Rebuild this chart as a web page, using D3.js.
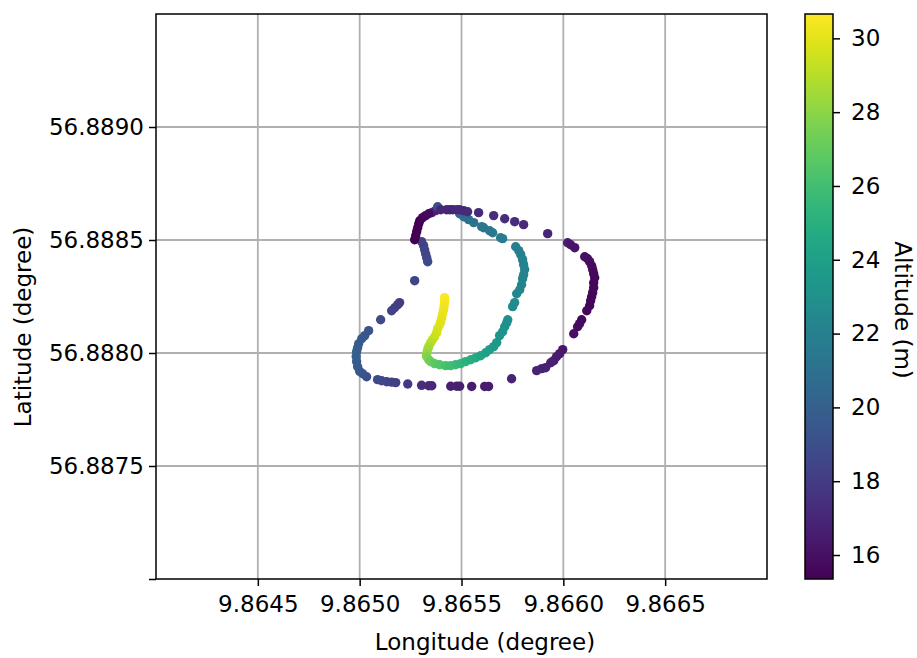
<!DOCTYPE html>
<html lang="en">
<head>
    <meta charset="UTF-8">
    <title>Flight path</title>
    <script src="https://cdn.jsdelivr.net/npm/d3@7"></script>
    <style>
        body { margin: 0; background: #fff; }
        text { font-family: "DejaVu Sans", sans-serif; fill: #000; }
        .grid line { stroke: #b0b0b0; stroke-width: 1.8px; }
    </style>
</head>
<body>
    <svg width="917" height="658"></svg>
    <script>
        // ----- data -----
        const longitude = [
            // inner spiral
            9.865417, 9.865417, 9.865415, 9.865412, 9.865408, 9.865403, 9.865398, 9.865393, 9.865383, 9.865378,
            9.865368, 9.865358, 9.865349, 9.865339, 9.865334, 9.865329, 9.865329, 9.865339, 9.865349, 9.865368,
            9.865393, 9.865422, 9.865447, 9.865471, 9.865496, 9.865520, 9.865545, 9.865570, 9.865594, 9.865619,
            9.865638, 9.865658, 9.865673, 9.865687, 9.865702, 9.865712, 9.865722, 9.865727, 9.865751, 9.865761,
            9.865771, 9.865786, 9.865795, 9.865800, 9.865805, 9.865810, 9.865805, 9.865800, 9.865791, 9.865781,
            9.865766, 9.865702, 9.865692, 9.865653, 9.865638, 9.865609, 9.865599, 9.865560, 9.865535, 9.865511,
            9.865491,
            // top row
            9.865354, 9.865373, 9.865383, 9.865398, 9.865427, 9.865442, 9.865457, 9.865476, 9.865491, 9.865511,
            9.865530, 9.865584, 9.865658, 9.865712, 9.865761, 9.865805, 9.865923,
            // right arc
            9.866021, 9.866036, 9.866056, 9.866105, 9.866119, 9.866129, 9.866139, 9.866144, 9.866149, 9.866154,
            9.866149, 9.866149, 9.866144, 9.866139, 9.866134, 9.866129, 9.866115, 9.866090, 9.866080, 9.866070,
            9.866051, 9.865997, 9.865982, 9.865967, 9.865953, 9.865938, 9.865913, 9.865894, 9.865869, 9.865746,
            // bottom and left arc
            9.865633, 9.865614, 9.865550, 9.865491, 9.865476, 9.865447, 9.865354, 9.865339, 9.865304, 9.865236,
            9.865177, 9.865157, 9.865133, 9.865108, 9.865088, 9.865034, 9.865015, 9.865000, 9.864990, 9.864985,
            9.864983, 9.864985, 9.864990, 9.864995, 9.865010, 9.865025, 9.865044, 9.865103, 9.865157, 9.865172,
            9.865187, 9.865196, 9.865270,
            // blue segment
            9.865334, 9.865329, 9.865324, 9.865319, 9.865314, 9.865304,
            // dark left arc
            9.865270, 9.865275, 9.865280, 9.865285, 9.865290, 9.865295, 9.865309, 9.865324, 9.865339
        ];
        const latitude = [
            56.888245, 56.888227, 56.888209, 56.888192, 56.888174, 56.888156, 56.888139, 56.888125, 56.888108, 56.888090,
            56.888072, 56.888059, 56.888046, 56.888028, 56.888015, 56.887997, 56.887984, 56.887970, 56.887962, 56.887953,
            56.887948, 56.887944, 56.887944, 56.887948, 56.887953, 56.887962, 56.887970, 56.887979, 56.887988, 56.888001,
            56.888015, 56.888028, 56.888046, 56.888077, 56.888094, 56.888116, 56.888134, 56.888147, 56.888205, 56.888223,
            56.888262, 56.888280, 56.888302, 56.888329, 56.888346, 56.888369, 56.888391, 56.888413, 56.888435, 56.888453,
            56.888470, 56.888506, 56.888510, 56.888532, 56.888541, 56.888554, 56.888559, 56.888577, 56.888590, 56.888603,
            56.888616,
            56.888621, 56.888630, 56.888647, 56.888634, 56.888634, 56.888634, 56.888634, 56.888634, 56.888634, 56.888630,
            56.888625, 56.888621, 56.888608, 56.888594, 56.888581, 56.888568, 56.888528,
            56.888488, 56.888479, 56.888466, 56.888426, 56.888417, 56.888404, 56.888386, 56.888369, 56.888351, 56.888333,
            56.888311, 56.888289, 56.888267, 56.888249, 56.888231, 56.888209, 56.888187, 56.888147, 56.888130, 56.888116,
            56.888085, 56.888015, 56.887997, 56.887984, 56.887966, 56.887957, 56.887935, 56.887931, 56.887922, 56.887886,
            56.887852, 56.887852, 56.887852, 56.887853, 56.887853, 56.887853, 56.887855, 56.887855, 56.887857, 56.887863,
            56.887869, 56.887871, 56.887873, 56.887877, 56.887882, 56.887895, 56.887908, 56.887919, 56.887939, 56.887962,
            56.887984, 56.888006, 56.888023, 56.888041, 56.888063, 56.888077, 56.888099, 56.888147, 56.888187, 56.888200,
            56.888214, 56.888223, 56.888320,
            56.888404, 56.888422, 56.888439, 56.888457, 56.888475, 56.888493,
            56.888501, 56.888519, 56.888537, 56.888554, 56.888572, 56.888585, 56.888599, 56.888608, 56.888616
        ];
        const altitude = [
            30.66, 30.5, 30.4, 30.3, 30.2, 30.1, 30.0, 29.9, 29.8, 29.6,
            29.5, 29.3, 29.0, 28.8, 28.5, 28.2, 27.8, 27.5, 27.2, 26.8,
            26.5, 26.2, 26.0, 25.7, 25.4, 25.2, 25.0, 24.7, 24.4, 24.1,
            23.9, 23.7, 23.5, 23.3, 23.2, 23.1, 23.0, 22.9, 22.7, 22.6,
            22.5, 22.4, 22.3, 22.2, 22.2, 22.1, 22.1, 22.0, 22.0, 21.9,
            21.8, 21.8, 21.7, 21.6, 21.5, 21.4, 21.3, 21.2, 21.0, 20.8,
            20.6,
            16.5, 16.8, 19.0, 17.0, 17.0, 17.0, 17.0, 17.1, 17.1, 17.1,
            17.2, 17.2, 17.3, 17.3, 17.3, 17.2, 17.0,
            16.5, 16.3, 16.2, 16.0, 16.0, 15.9, 15.8, 15.8, 15.7, 15.7,
            15.6, 15.6, 15.6, 15.5, 15.5, 15.5, 15.6, 15.7, 15.8, 15.8,
            16.0, 16.3, 16.4, 16.5, 16.6, 16.7, 16.8, 16.8, 16.9, 16.8,
            16.6, 16.6, 16.6, 16.7, 16.7, 16.7, 17.0, 17.1, 17.3, 17.8,
            18.2, 18.3, 18.4, 18.6, 18.7, 19.0, 19.3, 19.5, 19.7, 19.8,
            19.9, 20.0, 19.9, 19.8, 19.6, 19.5, 19.3, 18.8, 18.4, 18.3,
            18.2, 18.1, 18.5,
            18.8, 18.7, 18.6, 18.5, 18.4, 18.3,
            15.4, 15.4, 15.4, 15.35, 15.35, 15.4, 15.5, 15.6, 15.8
        ];
        const xTicks = [9.8645, 9.8650, 9.8655, 9.8660, 9.8665];
        const yTicks = [56.8870, 56.8875, 56.8880, 56.8885, 56.8890];
        const yTickLabels = ["", "56.8875", "56.8880", "56.8885", "56.8890"];
        const cTicks = [16, 18, 20, 22, 24, 26, 28, 30];

        const points = longitude.map((d, i) => ({lon: d, lat: latitude[i], alt: altitude[i]}));

        // ----- layout -----
        const svg = d3.select("svg");
        const m = {left: 156, right: 767, top: 14, bottom: 579};
        const cb = {left: 805, right: 833};
        const fs = 23;

        const x = d3.scaleLinear().domain([9.864, 9.867]).range([m.left, m.right]);
        const y = d3.scaleLinear().domain([56.887, 56.8895]).range([m.bottom, m.top]);
        const altExtent = d3.extent(altitude);
        const color = d3.scaleSequential(d3.interpolateViridis).domain(altExtent);
        const cy = d3.scaleLinear().domain(altExtent).range([m.bottom, m.top]);

        // grid
        const grid = svg.append("g").attr("class", "grid");
        grid.selectAll(".gx").data(xTicks).join("line")
            .attr("x1", d => x(d)).attr("x2", d => x(d))
            .attr("y1", m.top).attr("y2", m.bottom);
        grid.selectAll(".gy").data(yTicks.slice(1)).join("line")
            .attr("x1", m.left).attr("x2", m.right)
            .attr("y1", d => y(d)).attr("y2", d => y(d));

        // points
        svg.append("g").selectAll("circle")
            .data(points)
            .join("circle")
            .attr("cx", d => x(d.lon))
            .attr("cy", d => y(d.lat))
            .attr("r", 4.7)
            .attr("fill", d => color(d.alt));

        // axes
        const xAxis = svg.append("g")
            .attr("transform", `translate(0,${m.bottom})`)
            .call(d3.axisBottom(x).tickValues(xTicks).tickFormat(d3.format(".4f")).tickSizeInner(7).tickSizeOuter(0).tickPadding(10));
        const yAxis = svg.append("g")
            .attr("transform", `translate(${m.left},0)`)
            .call(d3.axisLeft(y).tickValues(yTicks).tickFormat((d, i) => yTickLabels[i]).tickSizeInner(7).tickSizeOuter(0).tickPadding(5));
        [xAxis, yAxis].forEach(a => {
            a.selectAll("text").style("font-size", fs + "px").attr("fill", "#000");
            a.selectAll("line").attr("stroke", "#000").attr("stroke-width", 1.5);
            a.select(".domain").remove();
        });

        svg.append("rect")
            .attr("x", m.left).attr("y", m.top)
            .attr("width", m.right - m.left).attr("height", m.bottom - m.top)
            .attr("fill", "none").attr("stroke", "#000").attr("stroke-width", 1.5);

        svg.append("text")
            .attr("x", 485).attr("y", 650)
            .attr("text-anchor", "middle")
            .style("font-size", fs + "px")
            .text("Longitude (degree)");
        svg.append("text")
            .attr("transform", "translate(31,327) rotate(-90)")
            .attr("text-anchor", "middle")
            .style("font-size", fs + "px")
            .text("Latitude (degree)");

        // colorbar
        const defs = svg.append("defs");
        const grad = defs.append("linearGradient")
            .attr("id", "cbar").attr("x1", 0).attr("x2", 0).attr("y1", 1).attr("y2", 0);
        d3.range(0, 1.0001, 0.05).forEach(t => {
            grad.append("stop").attr("offset", t).attr("stop-color", d3.interpolateViridis(t));
        });
        svg.append("rect")
            .attr("x", cb.left).attr("y", m.top)
            .attr("width", cb.right - cb.left).attr("height", m.bottom - m.top)
            .attr("fill", "url(#cbar)").attr("stroke", "#000").attr("stroke-width", 1.5);
        const cAxis = svg.append("g")
            .attr("transform", `translate(${cb.right},0)`)
            .call(d3.axisRight(cy).tickValues(cTicks).tickSizeInner(7).tickSizeOuter(0).tickPadding(11));
        cAxis.selectAll("text").style("font-size", fs + "px").attr("fill", "#000");
        cAxis.selectAll("line").attr("stroke", "#000").attr("stroke-width", 1.5);
        cAxis.select(".domain").remove();

        svg.append("text")
            .attr("transform", "translate(895,310) rotate(90)")
            .attr("text-anchor", "middle")
            .style("font-size", fs + "px")
            .text("Altitude (m)");
    </script>
</body>
</html>
